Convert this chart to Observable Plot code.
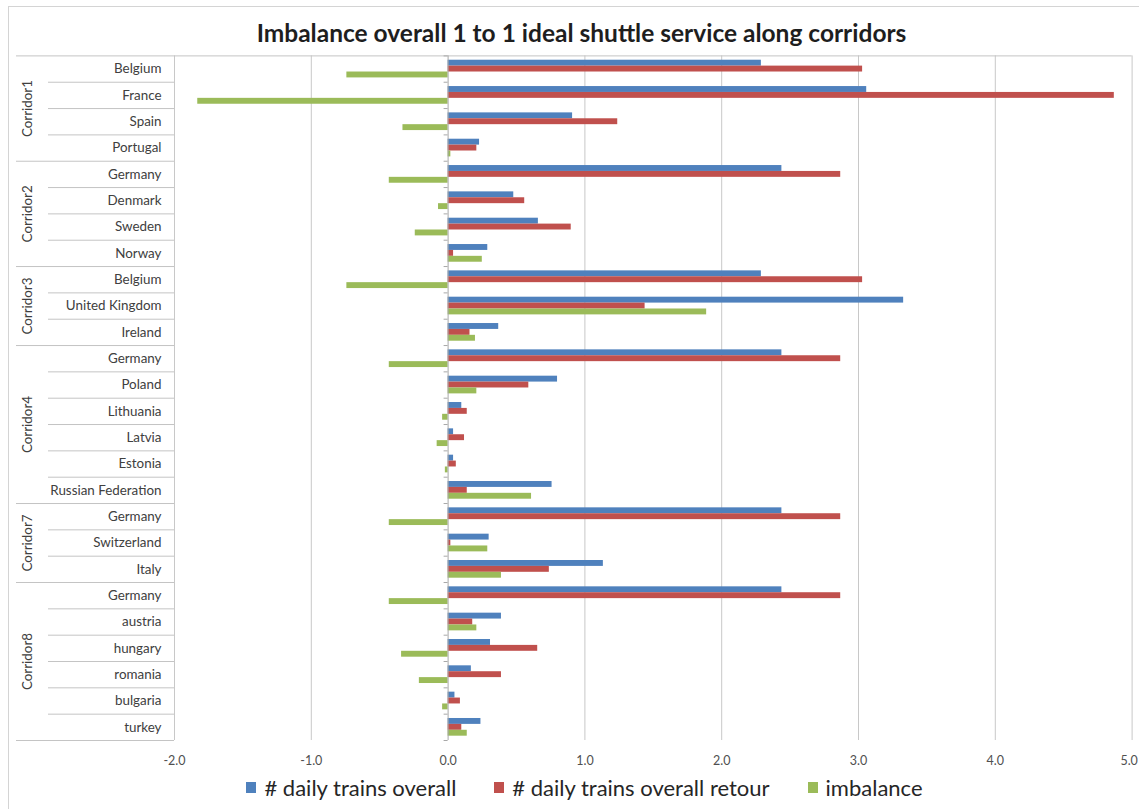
<!DOCTYPE html>
<html>
<head>
<meta charset="utf-8">
<script src="https://cdn.jsdelivr.net/npm/d3@7"></script>
<script src="https://cdn.jsdelivr.net/npm/@observablehq/plot@0.6"></script>
<style>
  html, body { margin: 0; padding: 0; overflow: hidden; background: #fff; }
  body { width: 1139px; height: 809px; position: relative; font-family: Lato, "Liberation Sans", sans-serif; }
  #frame { position: absolute; left: 8px; top: 6px; width: 1140px; height: 810px; border: 1px solid #d4d4d4; box-sizing: border-box; }
  #title { position: absolute; left: 0; top: 18px; width: 1163px; text-align: center; font-size: 24.5px; font-weight: bold; color: #1e1e1e; }
  #chart { position: absolute; left: 0; top: 40px; }
  #legend { position: absolute; left: 0; top: 774px; width: 1139px; display: flex; justify-content: center; padding-left: 30px; box-sizing: border-box; font-size: 22px; color: #262626; }
  .item { display: flex; align-items: center; margin: 0 19px; }
  .swatch { width: 10px; height: 11px; margin-right: 8px; }
</style>
</head>
<body>
<div id="frame"></div>
<div id="title">Imbalance overall 1 to 1 ideal shuttle service along corridors</div>
<div id="chart"></div>
<div id="legend"></div>
<script>
// Corridors and the countries along each, top to bottom
const corridorNames = ["Corridor1", "Corridor2", "Corridor3", "Corridor4", "Corridor7", "Corridor8"];
const corridorSizes = [4, 4, 3, 6, 3, 6];
const countries = [
  "Belgium", "France", "Spain", "Portugal",
  "Germany", "Denmark", "Sweden", "Norway",
  "Belgium", "United Kingdom", "Ireland",
  "Germany", "Poland", "Lithuania", "Latvia", "Estonia", "Russian Federation",
  "Germany", "Switzerland", "Italy",
  "Germany", "austria", "hungary", "romania", "bulgaria", "turkey"
];

// Series values, one per country row
const dailyTrainsOverall = [
  2.29, 3.06, 0.91, 0.23,
  2.44, 0.48, 0.66, 0.29,
  2.29, 3.33, 0.37,
  2.44, 0.80, 0.10, 0.04, 0.04, 0.76,
  2.44, 0.30, 1.135,
  2.44, 0.39, 0.31, 0.17, 0.05, 0.24
];
const dailyTrainsRetour = [
  3.03, 4.87, 1.24, 0.21,
  2.87, 0.56, 0.90, 0.04,
  3.03, 1.44, 0.16,
  2.87, 0.59, 0.14, 0.12, 0.06, 0.14,
  2.87, 0.02, 0.74,
  2.87, 0.18, 0.655, 0.39, 0.09, 0.10
];
const imbalance = [
  -0.74, -1.83, -0.33, 0.02,
  -0.43, -0.07, -0.24, 0.25,
  -0.74, 1.89, 0.20,
  -0.43, 0.21, -0.04, -0.08, -0.02, 0.61,
  -0.43, 0.29, 0.39,
  -0.43, 0.21, -0.34, -0.21, -0.04, 0.14
];

const seriesNames = ["# daily trains overall", "# daily trains overall retour", "imbalance"];
const seriesColors = ["#4f81bd", "#c0504d", "#9bbb59"];
const xTicks = [-2, -1, 0, 1, 2, 3, 4, 5];

// Row table: one row per country entry, indexed from the top
const corridorOfRow = corridorNames.flatMap((c, k) => Array(corridorSizes[k]).fill(c));
const rows = countries.map((country, i) => ({
  i, country, corridor: corridorOfRow[i],
  values: [dailyTrainsOverall[i], dailyTrainsRetour[i], imbalance[i]]
}));
const nRows = rows.length;

// Corridor blocks: first row index and size
const groups = [];
{
  let start = 0;
  corridorNames.forEach((name, k) => { groups.push({name, start, size: corridorSizes[k]}); start += corridorSizes[k]; });
}
const groupStarts = new Set(groups.map(g => g.start));

// Layout
const width = 1139, height = 732;
const marginLeft = 174, marginRight = 7.4, marginTop = 15.4, marginBottom = 32;
const xMin = -2, xMax = 5;
const unit = (width - marginLeft - marginRight) / (xMax - xMin);
const pxToX = px => xMin + (px - marginLeft) / unit;   // pixel column -> value units

// Bars within a row: three slices, each about 22% of the row height
const barH = 0.224;
const barPad = (1 - 3 * barH) / 2;

const barMarks = seriesNames.map((name, s) =>
  Plot.rect(rows, {
    x1: 0,
    x2: d => d.values[s],
    y1: d => d.i + barPad + s * barH,
    y2: d => d.i + barPad + (s + 1) * barH,
    fill: seriesColors[s]
  })
);

const innerBoundaries = d3.range(1, nRows).filter(i => !groupStarts.has(i));
const outerBoundaries = [...groupStarts].filter(i => i > 0);

// value-axis labels; the last one is nudged in so it stays inside the frame
const tickLabel = {y: nRows, dy: 20, text: d => d.toFixed(1), fontSize: 12.5, fill: "#505050"};

const chart = Plot.plot({
  width, height, marginLeft, marginRight, marginTop, marginBottom,
  style: {fontFamily: "Lato, 'Liberation Sans', sans-serif", fontSize: "12.5px", color: "#505050", background: "transparent"},
  x: {domain: [xMin, xMax], axis: null},
  y: {domain: [0, nRows], reverse: true, axis: null},
  marks: [
    // vertical gridlines
    Plot.ruleX(xTicks.filter(t => t !== 0), {y1: 0, y2: nRows, stroke: "#c8c8c8", strokeWidth: 1}),
    // category table: top border, corridor separators, row separators, bottom border
    Plot.ruleY([0], {x1: pxToX(16), x2: xMax, stroke: "#c4c4c4"}),
    Plot.ruleY(outerBoundaries, {x1: pxToX(16), x2: xMin, stroke: "#c4c4c4"}),
    Plot.ruleY(innerBoundaries, {x1: pxToX(48), x2: xMin, stroke: "#c4c4c4"}),
    Plot.ruleY([nRows], {x1: pxToX(16), x2: xMin, stroke: "#c4c4c4"}),
    // bars
    ...barMarks,
    // category axis at zero with small tick marks
    Plot.ruleX([0], {y1: 0, y2: nRows, stroke: "#a8a8a8"}),
    Plot.ruleY(d3.range(0, nRows + 1), {x1: -4 / unit, x2: 0, stroke: "#a8a8a8"}),
    // value-axis tick labels
    Plot.text(xTicks.slice(0, -1), {x: d => d, ...tickLabel}),
    Plot.text(xTicks.slice(-1), {x: d => d, ...tickLabel, dx: -3}),
    // country labels
    Plot.text(rows, {x: xMin, y: d => d.i + 0.5, text: "country", textAnchor: "end", dx: -13, fontSize: 13.4, fill: "#404040"}),
    // corridor labels
    Plot.text(groups, {x: pxToX(27), y: g => g.start + g.size / 2, text: "name", rotate: -90, fontSize: 13.4, fill: "#404040"})
  ]
});
document.getElementById("chart").appendChild(chart);

// legend
const legend = document.getElementById("legend");
seriesNames.forEach((name, s) => {
  const item = document.createElement("div");
  item.className = "item";
  const sw = document.createElement("span");
  sw.className = "swatch";
  sw.style.background = seriesColors[s];
  const label = document.createElement("span");
  label.textContent = name;
  item.append(sw, label);
  legend.appendChild(item);
});
</script>
</body>
</html>
